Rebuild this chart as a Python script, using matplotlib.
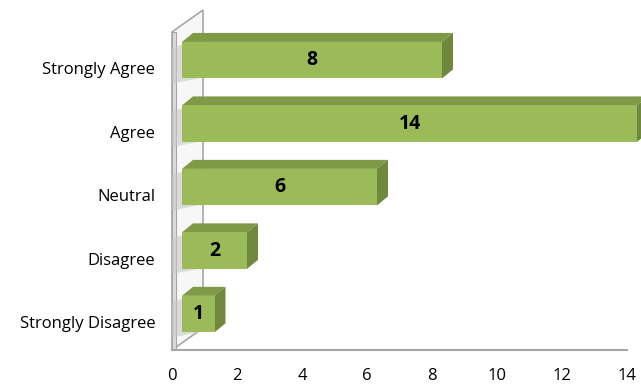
import numpy as np
import matplotlib.pyplot as plt
from matplotlib.patches import Polygon, Rectangle
from matplotlib.transforms import ScaledTranslation

# Respuestas de la encuesta
categories = ['Strongly Disagree', 'Disagree', 'Neutral', 'Agree', 'Strongly Agree']
counts = [1, 2, 6, 14, 8]
xticks = [0, 2, 4, 6, 8, 10, 12, 14]

# Colores estilo Excel 3D
front_col = '#9bbb59'
top_col = '#7e9a47'
side_col = '#6f883d'
wall_edge = '#a6a6a6'

plt.rcParams['font.family'] = ['Open Sans', 'DejaVu Sans']

fig = plt.figure(figsize=(6.41, 3.87), dpi=100)
ax = fig.add_axes([172 / 641, 37 / 387, 455 / 641, 318 / 387])
ax.set_xlim(0, 14)
ax.set_ylim(-0.44, 4.57)

# Pared lateral (losa fina en perspectiva)
dx_w, dy_w = 31 / 455, 22 / 318
wall = Polygon([(0, 0), (0, 1), (dx_w, 1 + dy_w), (dx_w, dy_w)], closed=True,
               transform=ax.transAxes, facecolor='#f7f7f7', edgecolor=wall_edge,
               linewidth=1.2, clip_on=False, zorder=1)
ax.add_patch(wall)
ax.add_patch(Rectangle((0, 0), 4 / 455, 1, transform=ax.transAxes, facecolor='#dcdcdc',
                       edgecolor=wall_edge, linewidth=0.8, clip_on=False, zorder=1.5))

# Desplazamiento de la cara frontal y profundidad de las barras
front = ax.transData + ScaledTranslation(10 / 100, 8 / 100, fig.dpi_scale_trans)
h = 0.575
ddx = 11 / (455 / 14)
ddy = 9 / (318 / 5.01)

for i, v in enumerate(counts):
    y0, y1 = i - h / 2, i + h / 2
    # sombra sobre la pared
    shadow = Polygon([(-0.3, y0 - 0.08), (-0.3, y1 - 0.1), (0.5, y1 + 0.05), (0.5, y0)],
                     closed=True, transform=front, facecolor='#c8c8c8', alpha=0.6,
                     edgecolor='none', clip_on=False, zorder=2)
    ax.add_patch(shadow)
    top = Polygon([(0, y1), (v, y1), (v + ddx, y1 + ddy), (ddx, y1 + ddy)], closed=True,
                  transform=front, facecolor=top_col, edgecolor='none', clip_on=False, zorder=3)
    side = Polygon([(v, y0), (v, y1), (v + ddx, y1 + ddy), (v + ddx, y0 + ddy)], closed=True,
                   transform=front, facecolor=side_col, edgecolor='none', clip_on=False, zorder=3)
    face = Rectangle((0, y0), v, h, transform=front, facecolor=front_col,
                     edgecolor='none', clip_on=False, zorder=4)
    ax.add_patch(top)
    ax.add_patch(side)
    ax.add_patch(face)
    ax.text(v / 2, i, str(v), transform=front, ha='center', va='center',
            fontsize=14, fontweight='bold', color='black', zorder=5)

ax.set_yticks(range(len(categories)))
ax.set_yticklabels(categories)
ax.set_xticks(xticks)
ax.tick_params(axis='both', length=0, labelsize=12, colors='black')
ax.tick_params(axis='y', pad=12)
ax.tick_params(axis='x', pad=13)

for s in ['top', 'right', 'left']:
    ax.spines[s].set_visible(False)
ax.spines['bottom'].set_color(wall_edge)
ax.spines['bottom'].set_linewidth(1.5)
ax.patch.set_visible(False)

fig.savefig('out.png', dpi=100)
